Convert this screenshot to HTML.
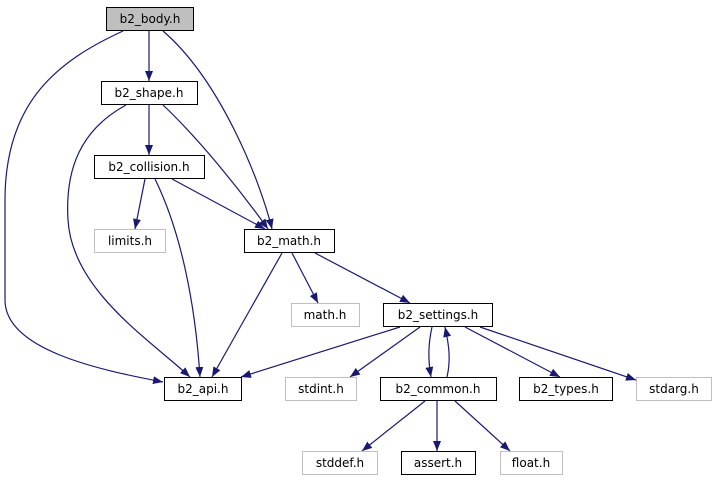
<!DOCTYPE html>
<html><head><meta charset="utf-8"><style>
html,body{margin:0;padding:0;background:#fff;width:717px;height:485px;overflow:hidden}
svg text{font-family:"DejaVu Sans","Liberation Sans",sans-serif;font-size:12px;text-anchor:middle;fill:#000}
</style></head><body>
<svg width="717" height="485" viewBox="0 0 717 485" xmlns="http://www.w3.org/2000/svg">
<defs><marker id="a" viewBox="0 0 10 10" refX="10" refY="5" markerWidth="10" markerHeight="10" markerUnits="userSpaceOnUse" orient="auto"><path d="M0,1 L10,5 L0,9 z" fill="#191970"/></marker></defs>
<g fill="none" stroke="#191970" stroke-width="1.2" marker-end="url(#a)">
<path d="M149,31 L149,81"/>
<path d="M123,31 C60,60 5,100 5,200 L5,300 C5,350 100,370 163,382"/>
<path d="M163,31 C220,80 260,180 272,229"/>
<path d="M149,105 L149,155"/>
<path d="M126,105 C80,130 65,170 68,220 C72,290 150,340 190,377"/>
<path d="M163,105 C200,140 240,190 268,229"/>
<path d="M145,179 L135,229"/>
<path d="M155,179 C180,230 195,300 200,377"/>
<path d="M172,179 L265,229"/>
<path d="M282,253 L212,377"/>
<path d="M292,253 L318,303"/>
<path d="M315,253 L410,303"/>
<path d="M400,327 L241,377"/>
<path d="M420,327 L350,377"/>
<path d="M432,327 C428,345 428,360 431,377"/>
<path d="M447,377 C451,360 449,345 445,327"/>
<path d="M465,327 L560,377"/>
<path d="M480,327 L636,380"/>
<path d="M425,401 L362,451"/>
<path d="M437,401 L437,451"/>
<path d="M455,401 L510,451"/>
</g>
<g stroke-width="1">
<rect x="106.5" y="7.5" width="87" height="23" fill="#bfbfbf" stroke="#000"/>
<rect x="101.5" y="81.5" width="96" height="23" fill="#fff" stroke="#000"/>
<rect x="94.5" y="155.5" width="110" height="23" fill="#fff" stroke="#000"/>
<rect x="94.5" y="229.5" width="71" height="23" fill="#fff" stroke="#bfbfbf"/>
<rect x="244.5" y="229.5" width="90" height="23" fill="#fff" stroke="#000"/>
<rect x="291.5" y="303.5" width="68" height="23" fill="#fff" stroke="#bfbfbf"/>
<rect x="383.5" y="303.5" width="109" height="23" fill="#fff" stroke="#000"/>
<rect x="164.5" y="377.5" width="77" height="23" fill="#fff" stroke="#000"/>
<rect x="285.5" y="377.5" width="71" height="23" fill="#fff" stroke="#bfbfbf"/>
<rect x="380.5" y="377.5" width="116" height="23" fill="#fff" stroke="#000"/>
<rect x="519.5" y="377.5" width="93" height="23" fill="#fff" stroke="#000"/>
<rect x="636.5" y="377.5" width="75" height="23" fill="#fff" stroke="#bfbfbf"/>
<rect x="302.5" y="451.5" width="75" height="23" fill="#fff" stroke="#bfbfbf"/>
<rect x="401.5" y="451.5" width="74" height="23" fill="#fff" stroke="#000"/>
<rect x="500.5" y="451.5" width="62" height="23" fill="#fff" stroke="#bfbfbf"/>
</g>
<text x="150" y="23">b2_body.h</text>
<text x="149" y="97">b2_shape.h</text>
<text x="149" y="171">b2_collision.h</text>
<text x="130" y="245">limits.h</text>
<text x="289" y="245">b2_math.h</text>
<text x="325" y="319">math.h</text>
<text x="438" y="319">b2_settings.h</text>
<text x="203" y="393">b2_api.h</text>
<text x="321" y="393">stdint.h</text>
<text x="438" y="393">b2_common.h</text>
<text x="566" y="393">b2_types.h</text>
<text x="674" y="393">stdarg.h</text>
<text x="340" y="467">stddef.h</text>
<text x="438" y="467">assert.h</text>
<text x="531" y="467">float.h</text>
</svg>
</body></html>
